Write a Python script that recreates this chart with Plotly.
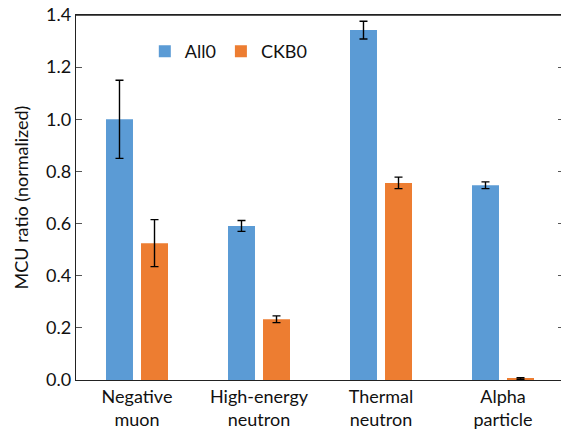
import plotly.graph_objects as go

categories = ["Negative<br>muon", "High-energy<br>neutron", "Thermal<br>neutron", "Alpha<br>particle"]
all0_values = [1.0, 0.591, 1.342, 0.747]
all0_errors = [0.15, 0.021, 0.034, 0.013]
ckb0_values = [0.525, 0.233, 0.756, 0.006]
ckb0_errors = [0.09, 0.013, 0.022, 0.003]

FONT = "Lato, Carlito, Calibri, sans-serif"

fig = go.Figure()
fig.add_trace(go.Bar(
    name="All0", x=categories, y=all0_values,
    marker=dict(color="#5B9BD5", line=dict(width=0)),
    error_y=dict(type="data", array=all0_errors, color="black", thickness=1.4, width=4),
))
fig.add_trace(go.Bar(
    name="CKB0", x=categories, y=ckb0_values,
    marker=dict(color="#ED7D31", line=dict(width=0)),
    error_y=dict(type="data", array=ckb0_errors, color="black", thickness=1.4, width=4),
))

fig.update_layout(
    width=565, height=436,
    margin=dict(l=76, r=1, t=15, b=56, autoexpand=False),
    paper_bgcolor="white", plot_bgcolor="white",
    barmode="group", bargap=0.426, bargroupgap=0.229,
    font=dict(family=FONT, size=18, color="#111"),
    legend=dict(orientation="h", x=0.141, y=0.90, xanchor="left", yanchor="middle",
                font=dict(size=18), bgcolor="rgba(0,0,0,0)"),
    showlegend=True,
)
# top frame line of the plot area
fig.add_shape(type="line", xref="paper", yref="paper", x0=0, x1=1, y0=1, y1=1,
              line=dict(color="#222", width=1.5), layer="above")
fig.update_xaxes(
    showline=True, linecolor="#222", linewidth=1.3, mirror=True,
    ticks="", tickfont=dict(size=18), automargin=False,
)
fig.update_yaxes(
    range=[0, 1.4], dtick=0.2, tickformat=".1f",
    showline=True, linecolor="#222", linewidth=1.3, mirror="ticks",
    ticks="inside", ticklen=6, tickcolor="#555",
    showgrid=False, zeroline=False, automargin=False,
    ticklabeloverflow="allow",
    tickfont=dict(size=18),
    title=dict(text="MCU ratio (normalized)", font=dict(size=18), standoff=12),
)

fig.write_html(
    "out.html",
    config={"displayModeBar": False},
    post_script="document.body.style.margin='0';"
                "document.body.style.overflow='hidden';"
                "document.documentElement.style.overflow='hidden';",
)
